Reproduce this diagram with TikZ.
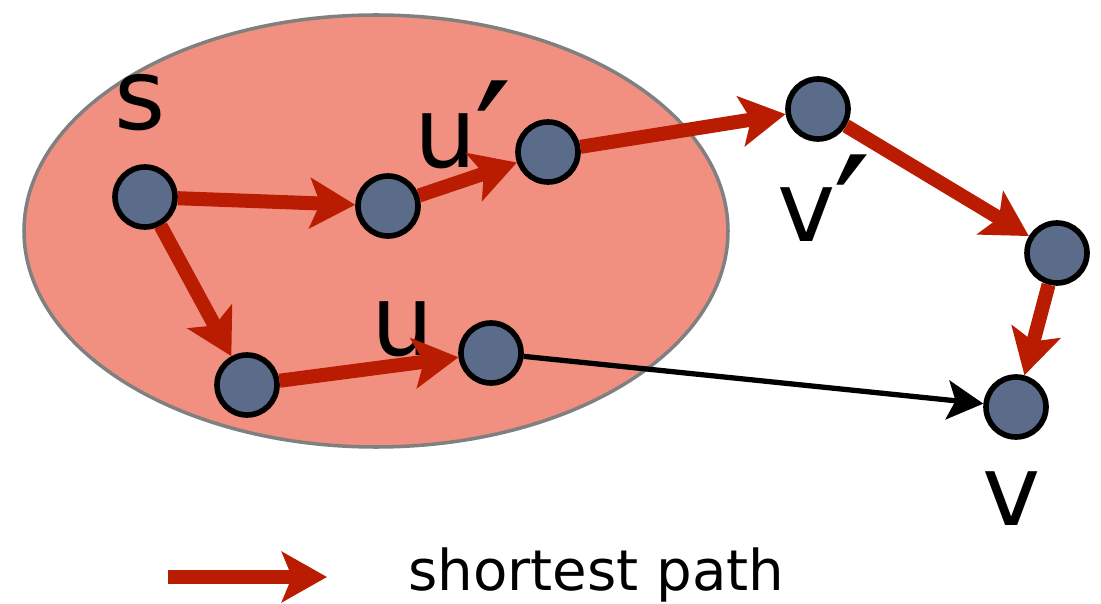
\documentclass[tikz,border=0pt]{standalone}
\usepackage{fontspec}
\setmainfont{DejaVu Sans}
\usetikzlibrary{arrows.meta}
\definecolor{setred}{RGB}{241,144,128}
\definecolor{pathred}{RGB}{185,28,0}
\definecolor{vertexblue}{RGB}{90,108,138}
\newcommand{\bigprime}{\kern-0.05cm\raisebox{-0.7cm}{\fontsize{95}{95}\selectfont ′}}

\begin{document}
\begin{tikzpicture}[x=0.02cm, y=-0.02cm,
    vertex/.style={draw, circle, line width=3.2pt, fill=vertexblue, minimum size=1.2cm, inner sep=0pt},
    lbl/.style={font=\fontsize{56}{60}\selectfont, inner sep=0pt, anchor=base},
    spath/.style={draw=pathred, line width=8pt, -{Stealth[length=0.9cm, width=1cm, inset=0.2cm]}},
    jump/.style={draw=black, line width=3pt, -{Stealth[length=0.72cm, width=0.78cm, inset=0.16cm]}}]
    \useasboundingbox (0,0) rectangle (1101,604);

    % the explored set
    \draw[fill=setred, draw=gray, line width=2pt] (376,231) ellipse [x radius=352, y radius=216];

    % vertices
    \node[vertex] (s) at (145,197) {};
    \node[vertex] (a) at (388,206) {};
    \node[vertex] (up) at (548,152) {};
    \node[vertex] (b) at (247,385) {};
    \node[vertex] (u) at (491,353) {};
    \node[vertex] (vp) at (818,109) {};
    \node[vertex] (r) at (1057,253) {};
    \node[vertex] (v) at (1016,407) {};

    % labels
    \node[lbl] (slbl) at (140,130) {s};
    \node[lbl, anchor=base west] (uplbl) at (414,168) {u\bigprime};
    \node[lbl] (ulbl) at (403,355) {u};
    \node[lbl, anchor=base west] (vplbl) at (777,242) {v\bigprime};
    \node[lbl] (vlbl) at (1012,525) {v};

    % paths
    \draw[spath] (s) -- (a);
    \draw[spath] (a) -- (up);
    \draw[spath] (up) -- (vp);
    \draw[spath] (vp) -- (r);
    \draw[spath] (r) -- (v);
    \draw[spath] (s) -- (b);
    \draw[spath] (b) -- (u);
    \draw[jump] (u) -- (v);

    % legend
    \coordinate (ltail) at (168,577);
    \coordinate (lhead) at (327,577);
    \draw[spath] (ltail) -- (lhead);
    \node[anchor=base west, inner sep=0pt, font=\fontsize{32}{34}\selectfont] (legend) at (408,590) {shortest path};
\end{tikzpicture}
\end{document}
